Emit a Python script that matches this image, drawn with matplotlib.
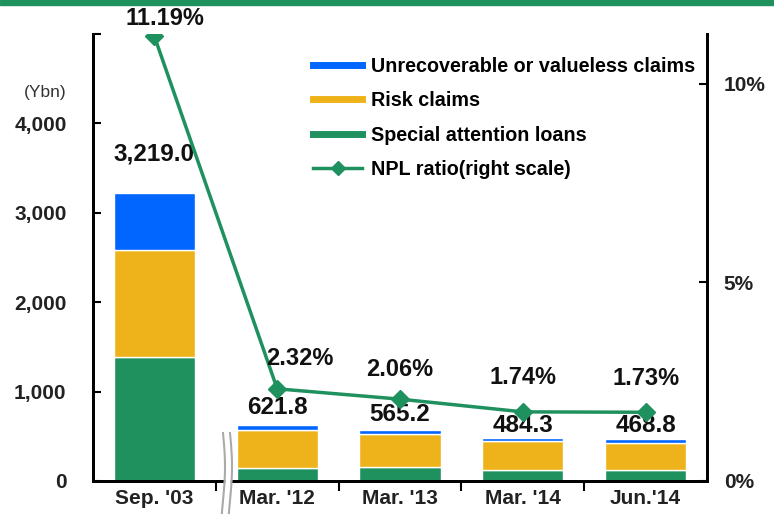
import matplotlib
matplotlib.use('Agg')
import matplotlib.pyplot as plt
import numpy as np
from matplotlib.lines import Line2D
from matplotlib.ticker import FuncFormatter, FixedLocator

plt.rcParams['font.family'] = ['Liberation Sans', 'DejaVu Sans']

# data (Ybn / %)
periods = ["Sep. '03", "Mar. '12", "Mar. '13", "Mar. '14", "Jun.'14"]
special_attention = [1385, 145, 160, 120, 118]
risk_claims = [1196, 430, 365, 325, 312]
unrecoverable = [638, 46.8, 40.2, 39.3, 38.8]
totals = [3219.0, 621.8, 565.2, 484.3, 468.8]
npl_ratio = [11.19, 2.32, 2.06, 1.74, 1.73]

BLUE = '#0066FF'
YELLOW = '#EEB31A'
GREEN = '#1F915F'

W, H = 774, 514
fig = plt.figure(figsize=(W / 100, H / 100), dpi=100)
ax = fig.add_axes([93 / W, 1 - 481 / H, (707 - 93) / W, (481 - 34) / H])
ax2 = ax.twinx()

x = np.arange(len(periods))
bw = 0.66
ax.bar(x, special_attention, bw, color=GREEN, edgecolor='white', linewidth=1, zorder=2)
ax.bar(x, risk_claims, bw, bottom=special_attention, color=YELLOW,
       edgecolor='white', linewidth=1, zorder=2)
bottom3 = np.array(special_attention) + np.array(risk_claims)
ax.bar(x, unrecoverable, bw, bottom=bottom3, color=BLUE, edgecolor='white', linewidth=1, zorder=2)

ax.set_xlim(-0.5, len(periods) - 0.5)
ax.set_ylim(0, 5000)
ax.yaxis.set_major_locator(FixedLocator(np.arange(0, 5001, 1000)))
ax.yaxis.set_major_formatter(FuncFormatter(lambda v, p: '' if v >= 5000 else f'{v:,.0f}'))
ax.tick_params(axis='y', direction='in', length=6, width=1.5, pad=19, labelsize=15,
               labelcolor='#222222')
for t in ax.get_yticklabels():
    t.set_fontweight('bold')

# x ticks between categories, labels at centers
ax.set_xticks(x)
ax.set_xticklabels(periods, fontsize=15, fontweight='bold', color='#222222')
ax.tick_params(axis='x', which='major', length=0, pad=6)
ax.set_xticks(np.arange(0.5, len(periods) - 1, 1), minor=True)
ax.tick_params(axis='x', which='minor', direction='out', length=7, width=1.5)

ax.spines['top'].set_visible(False)
ax2.spines['top'].set_visible(False)
for s in ['left', 'bottom', 'right']:
    ax.spines[s].set_linewidth(2)
    ax2.spines[s].set_linewidth(2)

# bar total labels
bar_offsets = [28, 6, 4, 1, 2]
for xi, tot, off in zip(x, totals, bar_offsets):
    ax.annotate(f'{tot:,.1f}', (xi, tot), xytext=(0, off), textcoords='offset pixels',
                ha='center', va='bottom', fontsize=17.5, fontweight='bold', color='#111111')

# NPL ratio line
ax2.plot(x, npl_ratio, color=GREEN, lw=2.5, marker='D', ms=9, zorder=3)
ax2.set_ylim(0, 11.25)
ax2.set_yticks([0, 5, 10])
ax2.yaxis.set_major_formatter(FuncFormatter(lambda v, p: f'{v:.0f}%'))
ax2.tick_params(axis='y', direction='in', length=6, width=1.5, pad=12, labelsize=15,
                labelcolor='#222222')
for t in ax2.get_yticklabels():
    t.set_fontweight('bold')

pct_offsets = [(11, 18), (23, 30), (0, 30), (0, 34), (0, 34)]
for xi, r, (dx, dy) in zip(x, npl_ratio, pct_offsets):
    ax2.annotate(f'{r:.2f}%', (xi, r), xytext=(dx, dy), textcoords='offset pixels',
                 ha='center', va='center', fontsize=17, fontweight='bold', color='#111111')

fig.text(45 / W, 1 - 93 / H, '(Ybn)', ha='center', va='center', fontsize=12.5, color='#333333')

# legend
handles = [
    Line2D([0], [0], color=BLUE, lw=5),
    Line2D([0], [0], color=YELLOW, lw=5),
    Line2D([0], [0], color=GREEN, lw=5),
    Line2D([0], [0], color=GREEN, lw=2.5, marker='D', ms=7),
]
labels = ['Unrecoverable or valueless claims', 'Risk claims', 'Special attention loans',
          'NPL ratio(right scale)']
ax2.legend(handles, labels, loc='upper left', bbox_to_anchor=(313 / W, 1 - 57 / H),
           bbox_transform=fig.transFigure, frameon=False, borderpad=0, borderaxespad=0,
           handlelength=2.5, handletextpad=0.45, labelspacing=0.78,
           prop={'size': 14.2, 'weight': 'bold'})

# green band on top
fig.add_artist(plt.Rectangle((0, 1 - 5 / H), 1, 5 / H, transform=fig.transFigure,
                             color=GREEN, zorder=5))

# axis break marks between Sep.'03 and Mar.'12
yy = np.linspace(433, 514, 40)
xx = 226.5 + 2.0 * np.sin((yy - 433) / 81 * np.pi * 1.2)
fig.add_artist(Line2D(xx / W, 1 - yy / H, transform=fig.transFigure,
                      color='white', lw=4, zorder=5.5))
for x0 in (223, 230):
    xx = x0 + 2.0 * np.sin((yy - 433) / 81 * np.pi * 1.2)
    fig.add_artist(Line2D(xx / W, 1 - yy / H, transform=fig.transFigure,
                          color='#AAAAAA', lw=1.5, zorder=6))

fig.savefig('out.png', dpi=100)
